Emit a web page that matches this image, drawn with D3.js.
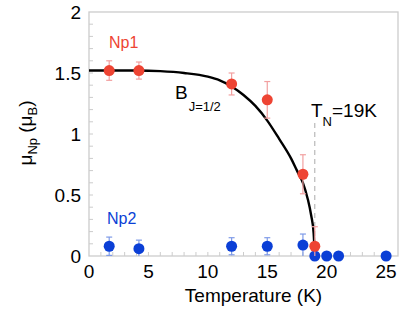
<!DOCTYPE html>
<html>
<head>
<meta charset="utf-8">
<script src="https://cdn.jsdelivr.net/npm/d3@7"></script>
<style>
  body { margin: 0; background: #fff; }
  text { font-family: "Liberation Sans", Arial, sans-serif; }
</style>
</head>
<body>
<svg width="415" height="312"></svg>
<script>
// Data
const np1T = [1.7, 4.2, 12, 15, 18, 19];
const np1M = [1.52, 1.52, 1.41, 1.28, 0.67, 0.08];
const np1Err = [0.08, 0.07, 0.09, 0.15, 0.16, 0.16];

const np2T = [1.7, 4.2, 12, 15, 18, 19, 20, 21, 25];
const np2M = [0.08, 0.06, 0.08, 0.08, 0.09, 0, 0, 0, 0];
const np2Err = [0.075, 0.07, 0.07, 0.07, 0.09, 0, 0, 0, 0];

// Brillouin J=1/2 curve
const fitT = [0, 2, 4, 6, 8, 10, 11, 12, 13, 14, 15, 16, 17, 17.5, 18, 18.4, 18.7, 18.9, 19];
const fitM = [1.52, 1.52, 1.52, 1.515, 1.50, 1.47, 1.44, 1.39, 1.32, 1.23, 1.11, 0.96, 0.80, 0.70, 0.60, 0.47, 0.33, 0.19, 0];

const xTicks = [0, 5, 10, 15, 20, 25];
const yTicks = [0, 0.5, 1, 1.5, 2];
const tN = 19;

const svg = d3.select("svg");
const x = d3.scaleLinear().domain([0, 26]).range([89, 398]);
const y = d3.scaleLinear().domain([0, 2]).range([256, 12]);

const red = "#ee4433", redLight = "#f2a0a0";
const blue = "#0b3fd6", blueLight = "#7f9be8";
const frame = "#cccccc";

// frame
svg.append("rect")
  .attr("x", x(0)).attr("y", y(2))
  .attr("width", x(26) - x(0)).attr("height", y(0) - y(2))
  .attr("fill", "none").attr("stroke", frame).attr("stroke-width", 1.3);

// minor ticks (inside)
svg.append("g").selectAll("line")
  .data(d3.range(1, 26))
  .join("line")
  .attr("x1", d => x(d)).attr("x2", d => x(d))
  .attr("y1", y(0)).attr("y2", y(0) - 4)
  .attr("stroke", frame).attr("stroke-width", 1);
svg.append("g").selectAll("line")
  .data(d3.range(1, 20).map(d => d / 10))
  .join("line")
  .attr("x1", x(0)).attr("x2", x(0) + 4)
  .attr("y1", d => y(d)).attr("y2", d => y(d))
  .attr("stroke", frame).attr("stroke-width", 1);

// tick labels
svg.append("g").selectAll("text")
  .data(xTicks)
  .join("text")
  .attr("x", d => x(d)).attr("y", 278)
  .attr("text-anchor", "middle")
  .attr("font-size", 19)
  .text(d => d);
svg.append("g").selectAll("text")
  .data(yTicks)
  .join("text")
  .attr("x", 81).attr("y", d => y(d) + 7)
  .attr("text-anchor", "end")
  .attr("font-size", 19)
  .text(d => d);

// axis titles
svg.append("text")
  .attr("x", (x(0) + x(26)) / 2 + 10).attr("y", 302)
  .attr("text-anchor", "middle")
  .attr("font-size", 19)
  .text("Temperature (K)");

const yl = svg.append("text")
  .attr("transform", "translate(32,133) rotate(-90)")
  .attr("text-anchor", "middle")
  .attr("font-size", 19);
yl.append("tspan").text("μ");
yl.append("tspan").attr("font-size", 13).attr("dy", 5).text("Np");
yl.append("tspan").attr("dy", -5).text(" (μ");
yl.append("tspan").attr("font-size", 13).attr("dy", 5).text("B");
yl.append("tspan").attr("dy", -5).text(")");

// T_N dashed line
svg.append("line")
  .attr("x1", x(tN)).attr("x2", x(tN))
  .attr("y1", 123).attr("y2", y(0))
  .attr("stroke", "#aaaaaa").attr("stroke-width", 1)
  .attr("stroke-dasharray", "5,4");

// fit curve
const fitData = fitT.map((t, i) => [t, fitM[i]]);
svg.append("path")
  .datum(fitData)
  .attr("d", d3.line().x(d => x(d[0])).y(d => y(d[1])).curve(d3.curveMonotoneX))
  .attr("fill", "none")
  .attr("stroke", "#000")
  .attr("stroke-width", 2.4);

// error bars + points
function drawSeries(ts, ms, errs, col, colLight) {
  const g = svg.append("g");
  const data = ts.map((t, i) => ({ t: t, m: ms[i], e: errs[i] })).filter(d => d.e > 0);
  g.selectAll("line.bar").data(data).join("line")
    .attr("class", "bar")
    .attr("x1", d => x(d.t)).attr("x2", d => x(d.t))
    .attr("y1", d => y(Math.min(2, d.m + d.e))).attr("y2", d => y(Math.max(0, d.m - d.e)))
    .attr("stroke", colLight).attr("stroke-width", 1.2);
  g.selectAll("line.cap1").data(data).join("line")
    .attr("class", "cap1")
    .attr("x1", d => x(d.t) - 3).attr("x2", d => x(d.t) + 3)
    .attr("y1", d => y(d.m + d.e)).attr("y2", d => y(d.m + d.e))
    .attr("stroke", colLight).attr("stroke-width", 1.2);
  g.selectAll("line.cap2").data(data.filter(d => d.m - d.e > 0)).join("line")
    .attr("class", "cap2")
    .attr("x1", d => x(d.t) - 3).attr("x2", d => x(d.t) + 3)
    .attr("y1", d => y(d.m - d.e)).attr("y2", d => y(d.m - d.e))
    .attr("stroke", colLight).attr("stroke-width", 1.2);
  g.selectAll("circle").data(ts.map((t, i) => ({ t: t, m: ms[i] }))).join("circle")
    .attr("cx", d => x(d.t)).attr("cy", d => y(d.m))
    .attr("r", 5.5)
    .attr("fill", col);
}
drawSeries(np2T, np2M, np2Err, blue, blueLight);
drawSeries(np1T, np1M, np1Err, red, redLight);

// labels
svg.append("text").attr("x", 109).attr("y", 48)
  .attr("font-size", 16).attr("fill", red).text("Np1");
svg.append("text").attr("x", 107).attr("y", 224)
  .attr("font-size", 16).attr("fill", blue).text("Np2");

const bl = svg.append("text").attr("x", 175).attr("y", 99).attr("font-size", 19);
bl.append("tspan").text("B");
bl.append("tspan").attr("font-size", 13).attr("dy", 12).attr("dx", 1).text("J=1/2");

const tl = svg.append("text").attr("x", 311).attr("y", 117).attr("font-size", 19);
tl.append("tspan").text("T");
tl.append("tspan").attr("font-size", 13).attr("dy", 9).text("N");
tl.append("tspan").attr("dy", -9).text("=19K");
</script>
</body>
</html>
